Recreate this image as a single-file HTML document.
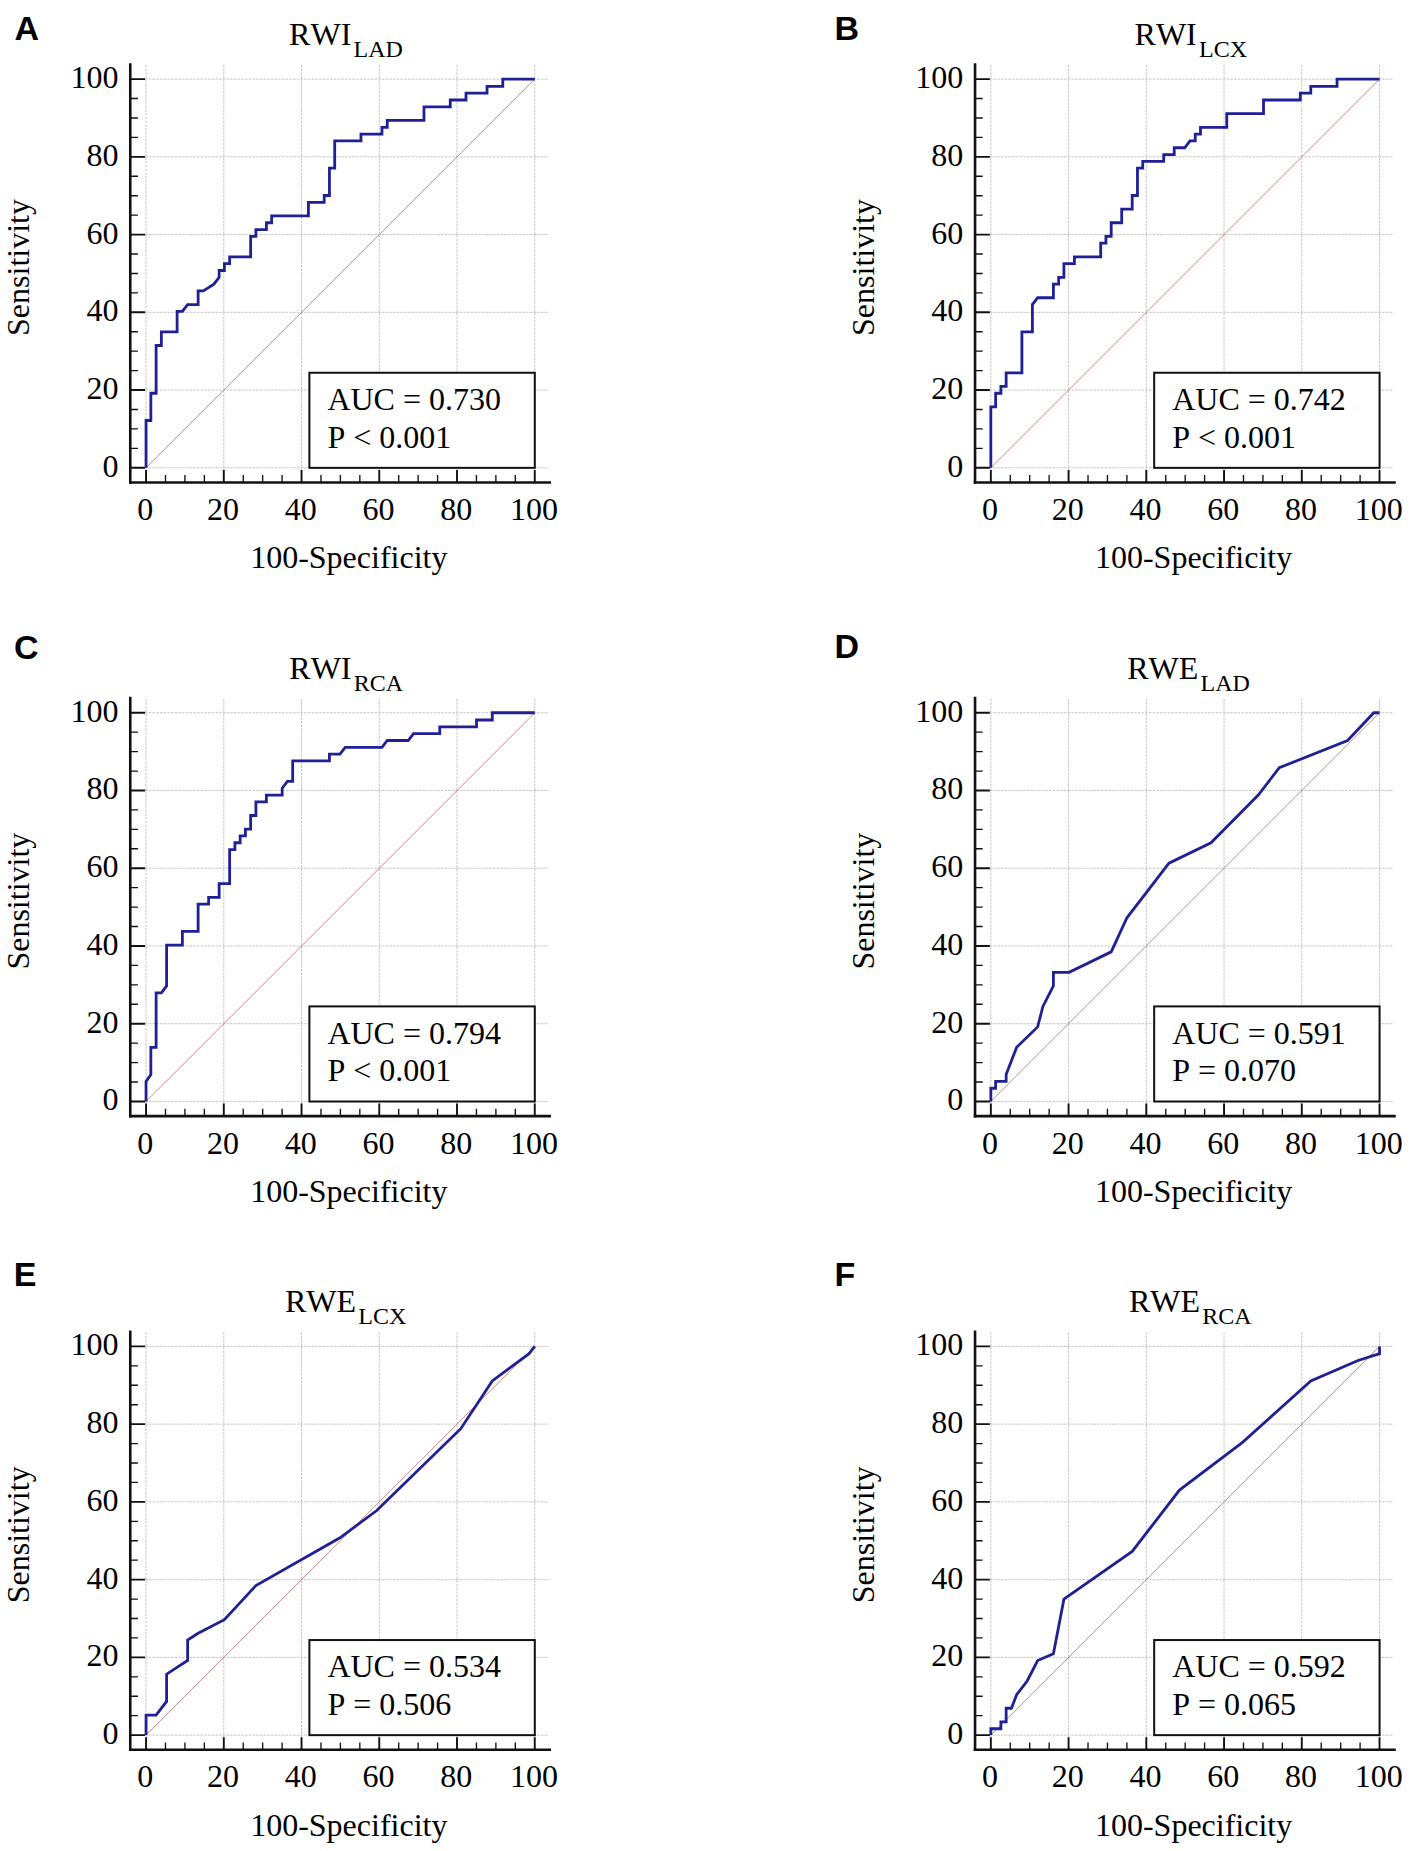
<!DOCTYPE html>
<html lang="en"><head><meta charset="utf-8"><title>ROC curves</title>
<style>
html,body{margin:0;padding:0;background:#fff;}
body{width:1417px;height:1851px;overflow:hidden;}
svg{display:block;}
text{font-family:"Liberation Serif",serif;fill:#000;font-kerning:none;font-variant-ligatures:none;}
.s{font-size:32px;}
.sub{font-size:24px;}
.t{font-size:32px;}
.L{font-family:"Liberation Sans",sans-serif;font-weight:bold;font-size:34px;}
.g{stroke:#c4c4c4;stroke-width:1;stroke-dasharray:2.6 1.1;fill:none;}
.ax{stroke:#111;stroke-width:2.6;fill:none;stroke-linecap:butt;}
.tk{stroke:#111;stroke-width:1.9;fill:none;}
.tm{stroke:#111;stroke-width:1.35;fill:none;}
.dg{stroke:#b87476;stroke-width:0.85;fill:none;}
.cv{stroke:#1f1f96;stroke-width:2.8;fill:none;stroke-linejoin:miter;stroke-linecap:butt;}
.bx{fill:#fff;stroke:#111;stroke-width:2;}
</style></head><body>
<svg width="1417" height="1851" viewBox="0 0 1417 1851">
<rect x="0" y="0" width="1417" height="1851" fill="#fff"/>
<g transform="translate(0,0)">
<path class="g" d="M146.05 65V482.45M223.79 65V482.45M301.53 65V482.45M379.27 65V482.45M457.01 65V482.45M534.75 65V482.45M130.27 467.8H549.05M130.27 390.06H549.05M130.27 312.32H549.05M130.27 234.58H549.05M130.27 156.84H549.05M130.27 79.1H549.05"/>
<path class="dg" d="M146.05 467.8L534.75 79.1"/>
<path class="cv" d="M146.05 467.8L146.05 420.51L150.85 420.51L150.85 393.24L156.11 393.24L156.11 345.5L161.36 345.5L161.36 331.86L177.12 331.86L177.12 311.41L182.37 311.41L187.62 304.59L198.13 304.59L198.13 290.95L203.38 290.95L213.89 284.13L219.14 277.31L219.14 270.49L224.39 270.49L224.39 263.67L229.64 263.67L229.64 256.85L250.65 256.85L250.65 236.39L255.91 236.39L255.91 229.57L266.41 229.57L266.41 222.76L271.66 222.76L271.66 215.94L308.43 215.94L308.43 202.3L324.19 202.3L324.19 195.48L329.44 195.48L329.44 168.2L334.7 168.2L334.7 140.92L360.96 140.92L360.96 134.1L381.97 134.1L381.97 127.29L387.22 127.29L387.22 120.47L423.99 120.47L423.99 106.83L450.26 106.83L450.26 100.01L466.01 100.01L466.01 93.19L487.03 93.19L487.03 86.37L502.78 86.37L502.78 79.1L534.75 79.1"/>
<rect class="bx" x="309.4" y="372.75" width="225.4" height="95.1"/>
<text class="s" x="327.4" y="410.2">AUC = 0.730</text>
<text class="s" x="327.4" y="447.8">P &lt; 0.001</text>
<path class="tk" d="M130.27 467.8H145.1M130.27 390.06H145.1M130.27 312.32H145.1M130.27 234.58H145.1M130.27 156.84H145.1M130.27 79.1H145.1M146.05 469.9V482.45M223.79 469.9V482.45M301.53 469.9V482.45M379.27 469.9V482.45M457.01 469.9V482.45M534.75 469.9V482.45"/>
<path class="tm" d="M130.27 448.37H137.9M130.27 428.93H137.9M130.27 409.5H137.9M130.27 370.62H137.9M130.27 351.19H137.9M130.27 331.75H137.9M130.27 292.88H137.9M130.27 273.45H137.9M130.27 254.01H137.9M130.27 215.14H137.9M130.27 195.71H137.9M130.27 176.27H137.9M130.27 137.4H137.9M130.27 117.97H137.9M130.27 98.53H137.9M165.49 475.1V482.45M184.92 475.1V482.45M204.36 475.1V482.45M243.23 475.1V482.45M262.66 475.1V482.45M282.1 475.1V482.45M320.97 475.1V482.45M340.4 475.1V482.45M359.84 475.1V482.45M398.71 475.1V482.45M418.14 475.1V482.45M437.57 475.1V482.45M476.44 475.1V482.45M495.88 475.1V482.45M515.32 475.1V482.45"/>
<path class="ax" d="M130.27 63.2V483.75"/>
<path class="ax" d="M128.97 482.45H551"/>
<text class="s" text-anchor="end" x="118.4" y="476.8">0</text>
<text class="s" text-anchor="end" x="118.4" y="399.06">20</text>
<text class="s" text-anchor="end" x="118.4" y="321.32">40</text>
<text class="s" text-anchor="end" x="118.4" y="243.58">60</text>
<text class="s" text-anchor="end" x="118.4" y="165.84">80</text>
<text class="s" text-anchor="end" x="118.4" y="88.1">100</text>
<text class="s" text-anchor="middle" x="145.35" y="520.1">0</text>
<text class="s" text-anchor="middle" x="223.09" y="520.1">20</text>
<text class="s" text-anchor="middle" x="300.83" y="520.1">40</text>
<text class="s" text-anchor="middle" x="378.57" y="520.1">60</text>
<text class="s" text-anchor="middle" x="456.31" y="520.1">80</text>
<text class="s" text-anchor="middle" x="534.05" y="520.1">100</text>
<text class="s" text-anchor="middle" x="348.8" y="568.4">100-Specificity</text>
<text class="s" text-anchor="middle" transform="translate(29,267.5) rotate(-90)">Sensitivity</text>
<text class="t" x="289.1" y="45.2">RWI<tspan class="sub" dx="2.2" dy="12">LAD</tspan></text>
</g>
<g transform="translate(844.78,0)">
<path class="g" d="M146.05 65V482.45M223.79 65V482.45M301.53 65V482.45M379.27 65V482.45M457.01 65V482.45M534.75 65V482.45M130.27 467.8H549.05M130.27 390.06H549.05M130.27 312.32H549.05M130.27 234.58H549.05M130.27 156.84H549.05M130.27 79.1H549.05"/>
<path class="dg" d="M146.05 467.8L534.75 79.1"/>
<path class="cv" d="M146.05 467.8L146.05 406.88L150.85 406.88L150.85 393.24L156.11 393.24L156.11 386.42L161.36 386.42L161.36 372.78L177.12 372.78L177.12 331.86L187.62 331.86L187.62 304.59L192.87 297.77L208.63 297.77L208.63 284.13L213.89 284.13L213.89 277.31L219.14 277.31L219.14 263.67L229.64 263.67L229.64 256.85L255.91 256.85L255.91 243.21L261.16 243.21L261.16 236.39L266.41 236.39L266.41 222.76L276.92 222.76L276.92 209.12L287.42 209.12L287.42 195.48L292.68 195.48L292.68 168.2L297.93 168.2L297.93 161.38L318.94 161.38L318.94 154.56L329.44 154.56L329.44 147.74L339.95 147.74L345.2 140.92L350.46 140.92L350.46 134.1L355.71 134.1L355.71 127.29L381.97 127.29L381.97 113.65L418.74 113.65L418.74 100.01L455.51 100.01L455.51 93.19L466.01 93.19L466.01 86.37L492.28 86.37L492.28 79.1L534.75 79.1"/>
<rect class="bx" x="309.4" y="372.75" width="225.4" height="95.1"/>
<text class="s" x="327.4" y="410.2">AUC = 0.742</text>
<text class="s" x="327.4" y="447.8">P &lt; 0.001</text>
<path class="tk" d="M130.27 467.8H145.1M130.27 390.06H145.1M130.27 312.32H145.1M130.27 234.58H145.1M130.27 156.84H145.1M130.27 79.1H145.1M146.05 469.9V482.45M223.79 469.9V482.45M301.53 469.9V482.45M379.27 469.9V482.45M457.01 469.9V482.45M534.75 469.9V482.45"/>
<path class="tm" d="M130.27 448.37H137.9M130.27 428.93H137.9M130.27 409.5H137.9M130.27 370.62H137.9M130.27 351.19H137.9M130.27 331.75H137.9M130.27 292.88H137.9M130.27 273.45H137.9M130.27 254.01H137.9M130.27 215.14H137.9M130.27 195.71H137.9M130.27 176.27H137.9M130.27 137.4H137.9M130.27 117.97H137.9M130.27 98.53H137.9M165.49 475.1V482.45M184.92 475.1V482.45M204.36 475.1V482.45M243.23 475.1V482.45M262.66 475.1V482.45M282.1 475.1V482.45M320.97 475.1V482.45M340.4 475.1V482.45M359.84 475.1V482.45M398.71 475.1V482.45M418.14 475.1V482.45M437.57 475.1V482.45M476.44 475.1V482.45M495.88 475.1V482.45M515.32 475.1V482.45"/>
<path class="ax" d="M130.27 63.2V483.75"/>
<path class="ax" d="M128.97 482.45H551"/>
<text class="s" text-anchor="end" x="118.4" y="476.8">0</text>
<text class="s" text-anchor="end" x="118.4" y="399.06">20</text>
<text class="s" text-anchor="end" x="118.4" y="321.32">40</text>
<text class="s" text-anchor="end" x="118.4" y="243.58">60</text>
<text class="s" text-anchor="end" x="118.4" y="165.84">80</text>
<text class="s" text-anchor="end" x="118.4" y="88.1">100</text>
<text class="s" text-anchor="middle" x="145.35" y="520.1">0</text>
<text class="s" text-anchor="middle" x="223.09" y="520.1">20</text>
<text class="s" text-anchor="middle" x="300.83" y="520.1">40</text>
<text class="s" text-anchor="middle" x="378.57" y="520.1">60</text>
<text class="s" text-anchor="middle" x="456.31" y="520.1">80</text>
<text class="s" text-anchor="middle" x="534.05" y="520.1">100</text>
<text class="s" text-anchor="middle" x="348.8" y="568.4">100-Specificity</text>
<text class="s" text-anchor="middle" transform="translate(29,267.5) rotate(-90)">Sensitivity</text>
<text class="t" x="289.8" y="45.2">RWI<tspan class="sub" dx="2.2" dy="12">LCX</tspan></text>
</g>
<g transform="translate(0,633.65)">
<path class="g" d="M146.05 65V482.45M223.79 65V482.45M301.53 65V482.45M379.27 65V482.45M457.01 65V482.45M534.75 65V482.45M130.27 467.8H549.05M130.27 390.06H549.05M130.27 312.32H549.05M130.27 234.58H549.05M130.27 156.84H549.05M130.27 79.1H549.05"/>
<path class="dg" d="M146.05 467.8L534.75 79.1"/>
<path class="cv" d="M146.05 467.8L146.05 447.79L150.85 440.97L150.85 413.7L156.11 413.7L156.11 359.14L161.36 359.14L166.61 352.32L166.61 311.41L182.37 311.41L182.37 297.77L198.13 297.77L198.13 270.49L208.63 270.49L208.63 263.67L219.14 263.67L219.14 250.03L229.64 250.03L229.64 215.94L234.9 215.94L234.9 209.12L240.15 209.12L240.15 202.3L245.4 202.3L245.4 195.48L250.65 195.48L250.65 181.84L255.91 181.84L255.91 168.2L266.41 168.2L266.41 161.38L282.17 161.38L282.17 154.56L287.42 147.74L292.68 147.74L292.68 127.29L329.44 127.29L329.44 120.47L339.95 120.47L345.2 113.65L381.97 113.65L387.22 106.83L408.24 106.83L413.49 100.01L439.75 100.01L439.75 93.19L476.52 93.19L476.52 86.37L492.28 86.37L492.28 79.1L534.75 79.1"/>
<rect class="bx" x="309.4" y="372.75" width="225.4" height="95.1"/>
<text class="s" x="327.4" y="410.2">AUC = 0.794</text>
<text class="s" x="327.4" y="447.8">P &lt; 0.001</text>
<path class="tk" d="M130.27 467.8H145.1M130.27 390.06H145.1M130.27 312.32H145.1M130.27 234.58H145.1M130.27 156.84H145.1M130.27 79.1H145.1M146.05 469.9V482.45M223.79 469.9V482.45M301.53 469.9V482.45M379.27 469.9V482.45M457.01 469.9V482.45M534.75 469.9V482.45"/>
<path class="tm" d="M130.27 448.37H137.9M130.27 428.93H137.9M130.27 409.5H137.9M130.27 370.62H137.9M130.27 351.19H137.9M130.27 331.75H137.9M130.27 292.88H137.9M130.27 273.45H137.9M130.27 254.01H137.9M130.27 215.14H137.9M130.27 195.71H137.9M130.27 176.27H137.9M130.27 137.4H137.9M130.27 117.97H137.9M130.27 98.53H137.9M165.49 475.1V482.45M184.92 475.1V482.45M204.36 475.1V482.45M243.23 475.1V482.45M262.66 475.1V482.45M282.1 475.1V482.45M320.97 475.1V482.45M340.4 475.1V482.45M359.84 475.1V482.45M398.71 475.1V482.45M418.14 475.1V482.45M437.57 475.1V482.45M476.44 475.1V482.45M495.88 475.1V482.45M515.32 475.1V482.45"/>
<path class="ax" d="M130.27 63.2V483.75"/>
<path class="ax" d="M128.97 482.45H551"/>
<text class="s" text-anchor="end" x="118.4" y="476.8">0</text>
<text class="s" text-anchor="end" x="118.4" y="399.06">20</text>
<text class="s" text-anchor="end" x="118.4" y="321.32">40</text>
<text class="s" text-anchor="end" x="118.4" y="243.58">60</text>
<text class="s" text-anchor="end" x="118.4" y="165.84">80</text>
<text class="s" text-anchor="end" x="118.4" y="88.1">100</text>
<text class="s" text-anchor="middle" x="145.35" y="520.1">0</text>
<text class="s" text-anchor="middle" x="223.09" y="520.1">20</text>
<text class="s" text-anchor="middle" x="300.83" y="520.1">40</text>
<text class="s" text-anchor="middle" x="378.57" y="520.1">60</text>
<text class="s" text-anchor="middle" x="456.31" y="520.1">80</text>
<text class="s" text-anchor="middle" x="534.05" y="520.1">100</text>
<text class="s" text-anchor="middle" x="348.8" y="568.4">100-Specificity</text>
<text class="s" text-anchor="middle" transform="translate(29,267.5) rotate(-90)">Sensitivity</text>
<text class="t" x="289.3" y="45.2">RWI<tspan class="sub" dx="2.2" dy="12">RCA</tspan></text>
</g>
<g transform="translate(844.78,633.65)">
<path class="g" d="M146.05 65V482.45M223.79 65V482.45M301.53 65V482.45M379.27 65V482.45M457.01 65V482.45M534.75 65V482.45M130.27 467.8H549.05M130.27 390.06H549.05M130.27 312.32H549.05M130.27 234.58H549.05M130.27 156.84H549.05M130.27 79.1H549.05"/>
<path class="dg" d="M146.05 467.8L534.75 79.1"/>
<path class="cv" d="M146.05 467.8L146.05 454.61L150.85 454.61L150.85 447.79L161.36 447.79L161.36 440.97L171.86 413.7L192.87 393.24L198.13 372.78L208.63 352.32L208.63 338.68L224.39 338.68L266.41 318.23L282.17 284.13L324.19 229.57L366.21 209.12L413.49 161.38L434.5 134.1L502.78 106.83L529.05 79.1L534.75 79.1"/>
<rect class="bx" x="309.4" y="372.75" width="225.4" height="95.1"/>
<text class="s" x="327.4" y="410.2">AUC = 0.591</text>
<text class="s" x="327.4" y="447.8">P = 0.070</text>
<path class="tk" d="M130.27 467.8H145.1M130.27 390.06H145.1M130.27 312.32H145.1M130.27 234.58H145.1M130.27 156.84H145.1M130.27 79.1H145.1M146.05 469.9V482.45M223.79 469.9V482.45M301.53 469.9V482.45M379.27 469.9V482.45M457.01 469.9V482.45M534.75 469.9V482.45"/>
<path class="tm" d="M130.27 448.37H137.9M130.27 428.93H137.9M130.27 409.5H137.9M130.27 370.62H137.9M130.27 351.19H137.9M130.27 331.75H137.9M130.27 292.88H137.9M130.27 273.45H137.9M130.27 254.01H137.9M130.27 215.14H137.9M130.27 195.71H137.9M130.27 176.27H137.9M130.27 137.4H137.9M130.27 117.97H137.9M130.27 98.53H137.9M165.49 475.1V482.45M184.92 475.1V482.45M204.36 475.1V482.45M243.23 475.1V482.45M262.66 475.1V482.45M282.1 475.1V482.45M320.97 475.1V482.45M340.4 475.1V482.45M359.84 475.1V482.45M398.71 475.1V482.45M418.14 475.1V482.45M437.57 475.1V482.45M476.44 475.1V482.45M495.88 475.1V482.45M515.32 475.1V482.45"/>
<path class="ax" d="M130.27 63.2V483.75"/>
<path class="ax" d="M128.97 482.45H551"/>
<text class="s" text-anchor="end" x="118.4" y="476.8">0</text>
<text class="s" text-anchor="end" x="118.4" y="399.06">20</text>
<text class="s" text-anchor="end" x="118.4" y="321.32">40</text>
<text class="s" text-anchor="end" x="118.4" y="243.58">60</text>
<text class="s" text-anchor="end" x="118.4" y="165.84">80</text>
<text class="s" text-anchor="end" x="118.4" y="88.1">100</text>
<text class="s" text-anchor="middle" x="145.35" y="520.1">0</text>
<text class="s" text-anchor="middle" x="223.09" y="520.1">20</text>
<text class="s" text-anchor="middle" x="300.83" y="520.1">40</text>
<text class="s" text-anchor="middle" x="378.57" y="520.1">60</text>
<text class="s" text-anchor="middle" x="456.31" y="520.1">80</text>
<text class="s" text-anchor="middle" x="534.05" y="520.1">100</text>
<text class="s" text-anchor="middle" x="348.8" y="568.4">100-Specificity</text>
<text class="s" text-anchor="middle" transform="translate(29,267.5) rotate(-90)">Sensitivity</text>
<text class="t" x="282.5" y="45.2">RWE<tspan class="sub" dx="2.2" dy="12">LAD</tspan></text>
</g>
<g transform="translate(0,1267.3)">
<path class="g" d="M146.05 65V482.45M223.79 65V482.45M301.53 65V482.45M379.27 65V482.45M457.01 65V482.45M534.75 65V482.45M130.27 467.8H549.05M130.27 390.06H549.05M130.27 312.32H549.05M130.27 234.58H549.05M130.27 156.84H549.05M130.27 79.1H549.05"/>
<path class="dg" d="M146.05 467.8L534.75 79.1"/>
<path class="cv" d="M146.05 467.8L146.05 447.79L156.11 447.79L166.61 434.15L166.61 406.88L187.62 393.24L187.62 372.78L198.13 365.96L224.39 352.32L255.91 318.23L339.95 270.49L376.72 243.21L460.76 161.38L492.28 113.65L529.05 86.37L534.75 79.1"/>
<rect class="bx" x="309.4" y="372.75" width="225.4" height="95.1"/>
<text class="s" x="327.4" y="410.2">AUC = 0.534</text>
<text class="s" x="327.4" y="447.8">P = 0.506</text>
<path class="tk" d="M130.27 467.8H145.1M130.27 390.06H145.1M130.27 312.32H145.1M130.27 234.58H145.1M130.27 156.84H145.1M130.27 79.1H145.1M146.05 469.9V482.45M223.79 469.9V482.45M301.53 469.9V482.45M379.27 469.9V482.45M457.01 469.9V482.45M534.75 469.9V482.45"/>
<path class="tm" d="M130.27 448.37H137.9M130.27 428.93H137.9M130.27 409.5H137.9M130.27 370.62H137.9M130.27 351.19H137.9M130.27 331.75H137.9M130.27 292.88H137.9M130.27 273.45H137.9M130.27 254.01H137.9M130.27 215.14H137.9M130.27 195.71H137.9M130.27 176.27H137.9M130.27 137.4H137.9M130.27 117.97H137.9M130.27 98.53H137.9M165.49 475.1V482.45M184.92 475.1V482.45M204.36 475.1V482.45M243.23 475.1V482.45M262.66 475.1V482.45M282.1 475.1V482.45M320.97 475.1V482.45M340.4 475.1V482.45M359.84 475.1V482.45M398.71 475.1V482.45M418.14 475.1V482.45M437.57 475.1V482.45M476.44 475.1V482.45M495.88 475.1V482.45M515.32 475.1V482.45"/>
<path class="ax" d="M130.27 63.2V483.75"/>
<path class="ax" d="M128.97 482.45H551"/>
<text class="s" text-anchor="end" x="118.4" y="476.8">0</text>
<text class="s" text-anchor="end" x="118.4" y="399.06">20</text>
<text class="s" text-anchor="end" x="118.4" y="321.32">40</text>
<text class="s" text-anchor="end" x="118.4" y="243.58">60</text>
<text class="s" text-anchor="end" x="118.4" y="165.84">80</text>
<text class="s" text-anchor="end" x="118.4" y="88.1">100</text>
<text class="s" text-anchor="middle" x="145.35" y="520.1">0</text>
<text class="s" text-anchor="middle" x="223.09" y="520.1">20</text>
<text class="s" text-anchor="middle" x="300.83" y="520.1">40</text>
<text class="s" text-anchor="middle" x="378.57" y="520.1">60</text>
<text class="s" text-anchor="middle" x="456.31" y="520.1">80</text>
<text class="s" text-anchor="middle" x="534.05" y="520.1">100</text>
<text class="s" text-anchor="middle" x="348.8" y="568.4">100-Specificity</text>
<text class="s" text-anchor="middle" transform="translate(29,267.5) rotate(-90)">Sensitivity</text>
<text class="t" x="285" y="45.2">RWE<tspan class="sub" dx="2.2" dy="12">LCX</tspan></text>
</g>
<g transform="translate(844.78,1267.3)">
<path class="g" d="M146.05 65V482.45M223.79 65V482.45M301.53 65V482.45M379.27 65V482.45M457.01 65V482.45M534.75 65V482.45M130.27 467.8H549.05M130.27 390.06H549.05M130.27 312.32H549.05M130.27 234.58H549.05M130.27 156.84H549.05M130.27 79.1H549.05"/>
<path class="dg" d="M146.05 467.8L534.75 79.1"/>
<path class="cv" d="M146.05 467.8L146.05 461.43L156.11 461.43L156.11 454.61L161.36 454.61L161.36 440.97L166.61 440.97L171.86 427.33L182.37 413.7L192.87 393.24L208.63 386.42L219.14 331.86L287.42 284.13L334.7 222.76L397.73 175.02L466.01 113.65L513.29 93.19L534.75 86.37L534.75 79.1"/>
<rect class="bx" x="309.4" y="372.75" width="225.4" height="95.1"/>
<text class="s" x="327.4" y="410.2">AUC = 0.592</text>
<text class="s" x="327.4" y="447.8">P = 0.065</text>
<path class="tk" d="M130.27 467.8H145.1M130.27 390.06H145.1M130.27 312.32H145.1M130.27 234.58H145.1M130.27 156.84H145.1M130.27 79.1H145.1M146.05 469.9V482.45M223.79 469.9V482.45M301.53 469.9V482.45M379.27 469.9V482.45M457.01 469.9V482.45M534.75 469.9V482.45"/>
<path class="tm" d="M130.27 448.37H137.9M130.27 428.93H137.9M130.27 409.5H137.9M130.27 370.62H137.9M130.27 351.19H137.9M130.27 331.75H137.9M130.27 292.88H137.9M130.27 273.45H137.9M130.27 254.01H137.9M130.27 215.14H137.9M130.27 195.71H137.9M130.27 176.27H137.9M130.27 137.4H137.9M130.27 117.97H137.9M130.27 98.53H137.9M165.49 475.1V482.45M184.92 475.1V482.45M204.36 475.1V482.45M243.23 475.1V482.45M262.66 475.1V482.45M282.1 475.1V482.45M320.97 475.1V482.45M340.4 475.1V482.45M359.84 475.1V482.45M398.71 475.1V482.45M418.14 475.1V482.45M437.57 475.1V482.45M476.44 475.1V482.45M495.88 475.1V482.45M515.32 475.1V482.45"/>
<path class="ax" d="M130.27 63.2V483.75"/>
<path class="ax" d="M128.97 482.45H551"/>
<text class="s" text-anchor="end" x="118.4" y="476.8">0</text>
<text class="s" text-anchor="end" x="118.4" y="399.06">20</text>
<text class="s" text-anchor="end" x="118.4" y="321.32">40</text>
<text class="s" text-anchor="end" x="118.4" y="243.58">60</text>
<text class="s" text-anchor="end" x="118.4" y="165.84">80</text>
<text class="s" text-anchor="end" x="118.4" y="88.1">100</text>
<text class="s" text-anchor="middle" x="145.35" y="520.1">0</text>
<text class="s" text-anchor="middle" x="223.09" y="520.1">20</text>
<text class="s" text-anchor="middle" x="300.83" y="520.1">40</text>
<text class="s" text-anchor="middle" x="378.57" y="520.1">60</text>
<text class="s" text-anchor="middle" x="456.31" y="520.1">80</text>
<text class="s" text-anchor="middle" x="534.05" y="520.1">100</text>
<text class="s" text-anchor="middle" x="348.8" y="568.4">100-Specificity</text>
<text class="s" text-anchor="middle" transform="translate(29,267.5) rotate(-90)">Sensitivity</text>
<text class="t" x="284.2" y="45.2">RWE<tspan class="sub" dx="2.2" dy="12">RCA</tspan></text>
</g>
<text class="L" x="14.5" y="40.1">A</text>
<text class="L" x="834.5" y="40">B</text>
<text class="L" x="13.9" y="658.7">C</text>
<text class="L" x="834.5" y="658.4">D</text>
<text class="L" x="13.8" y="1285.9">E</text>
<text class="L" x="834.4" y="1285.6">F</text>
</svg>
</body></html>
